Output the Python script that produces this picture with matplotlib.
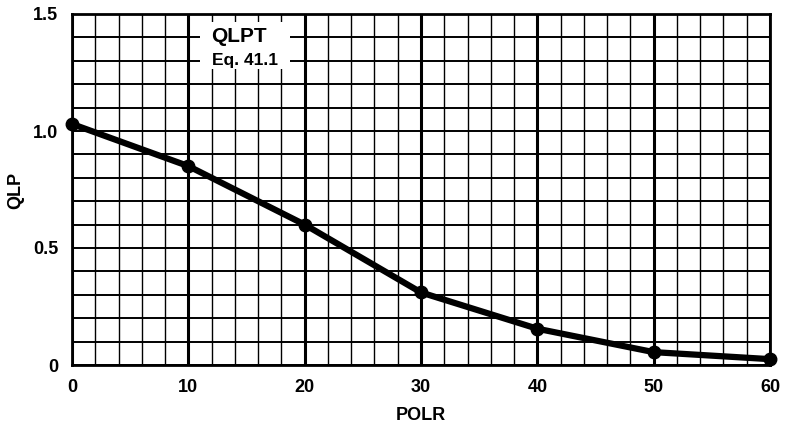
import numpy as np
import matplotlib
matplotlib.use("Agg")
from matplotlib import pyplot as plt
from matplotlib.patches import Rectangle

# values
polr = [0, 10, 20, 30, 40, 50, 60]
qlp = [1.03, 0.85, 0.60, 0.31, 0.155, 0.055, 0.025]
x_ticks = [0, 10, 20, 30, 40, 50, 60]
y_ticks = [0, 0.5, 1.0, 1.5]
y_tick_labels = ["0", "0.5", "1.0", "1.5"]

plt.rcParams['font.family'] = ['Liberation Sans', 'DejaVu Sans']
plt.rcParams['font.weight'] = 'bold'

fig = plt.figure(figsize=(7.87, 4.24), dpi=100)
ax = fig.add_axes([72/787, 1 - 365/424, 698/787, 351/424])

ax.set_xlim(0, 60)
ax.set_ylim(0, 1.5)

# graph-paper grid
for x in np.arange(0, 61, 2):
    lw = 2.2 if x % 10 == 0 else 1.0
    ax.axvline(x, color="black", lw=lw, zorder=1)
for y in np.arange(0, 1.51, 0.1):
    ax.axhline(y, color="black", lw=1.4, zorder=1)

# curve
ax.plot(polr, qlp, color="black", lw=4.5, marker="o", markersize=9,
        solid_capstyle="round", zorder=3, clip_on=False)

# label box (white patch hiding the grid behind the caption)
ax.add_patch(Rectangle((11.0, 1.265), 7.7, 0.2, facecolor="white",
                       edgecolor="none", zorder=4))
ax.text(12.0, 1.405, "QLPT", ha="left", va="center", fontsize=15,
        fontweight="bold", zorder=5)
ax.text(12.0, 1.30, "Eq. 41.1", ha="left", va="center", fontsize=12.5,
        fontweight="bold", zorder=5)

ax.set_xticks(x_ticks)
ax.set_yticks(y_ticks)
ax.set_yticklabels(y_tick_labels)
ax.tick_params(length=0, labelsize=13, pad=10)
for lab in ax.get_xticklabels() + ax.get_yticklabels():
    lab.set_fontweight("bold")

for sp in ax.spines.values():
    sp.set_linewidth(2)

ax.set_xlabel("POLR", fontsize=13, fontweight="bold", labelpad=8)
fig.text(16/787, 1 - 190/424, "QLP", rotation=90, ha="center", va="center",
         fontsize=13, fontweight="bold")

plt.savefig("out.png", dpi=100)
